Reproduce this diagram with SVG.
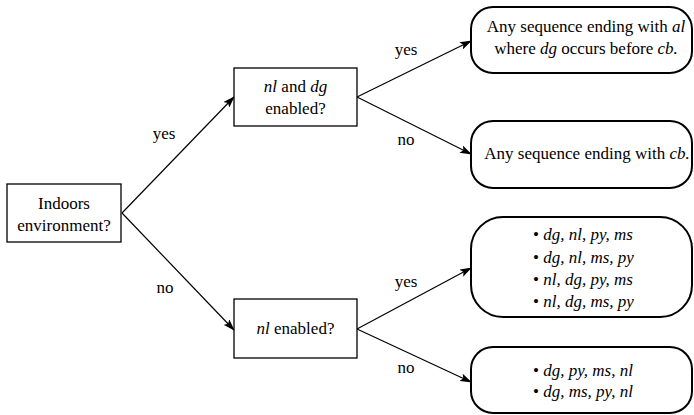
<svg xmlns="http://www.w3.org/2000/svg" width="694" height="415" viewBox="0 0 694 415" font-family="Liberation Serif, DejaVu Serif, serif" font-size="17">
  <style>
    .c { text-anchor: middle; }
    .i { font-style: italic; }
    .q { fill: #fff; stroke: #000; stroke-width: 1.3; }
    .r { fill: #fff; stroke: #000; stroke-width: 2; }
    .e { fill: none; stroke: #000; stroke-width: 1.2; marker-end: url(#ah); }
  </style>
  <defs>
    <marker id="ah" markerWidth="12" markerHeight="8" refX="11" refY="4" orient="auto" markerUnits="userSpaceOnUse">
      <path d="M0,0 L12,4 L0,8 L2.5,4 Z" fill="#000"/>
    </marker>
  </defs>
  <rect width="694" height="415" fill="#fff"/>

  <!-- connectors -->
  <g id="edges">
    <line class="e" x1="122" y1="213" x2="234" y2="97"/>
    <line class="e" x1="122" y1="213" x2="234" y2="330"/>
    <line class="e" x1="357" y1="97" x2="471" y2="41"/>
    <line class="e" x1="357" y1="97" x2="471" y2="154"/>
    <line class="e" x1="357" y1="329" x2="471" y2="268"/>
    <line class="e" x1="357" y1="329" x2="471" y2="382"/>
    <text class="c" x="164" y="139">yes</text>
    <text class="c" x="165" y="293">no</text>
    <text class="c" x="406" y="55">yes</text>
    <text class="c" x="406" y="145">no</text>
    <text class="c" x="406" y="287">yes</text>
    <text class="c" x="406" y="373">no</text>
  </g>

  <g id="indoors">
    <rect class="q" x="7" y="184" width="114" height="58"/>
    <text class="c" x="64" y="209">Indoors</text>
    <text class="c" x="64" y="231">environment?</text>
  </g>

  <g id="nl-dg-enabled">
    <rect class="q" x="234" y="68" width="123" height="58"/>
    <text class="c" x="295.5" y="92"><tspan class="i">nl</tspan> and <tspan class="i">dg</tspan></text>
    <text class="c" x="295.5" y="114">enabled?</text>
  </g>

  <g id="nl-enabled">
    <rect class="q" x="234" y="299" width="123" height="59"/>
    <text class="c" x="295.5" y="334"><tspan class="i">nl</tspan> enabled?</text>
  </g>

  <g id="seq-al">
    <rect class="r" x="471" y="7" width="221" height="66" rx="22" ry="22"/>
    <text class="c" x="586" y="32">Any sequence ending with <tspan class="i">al</tspan></text>
    <text class="c" x="586" y="54">where <tspan class="i">dg</tspan> occurs before <tspan class="i">cb.</tspan></text>
  </g>

  <g id="seq-cb">
    <rect class="r" x="471" y="121" width="221" height="67" rx="22" ry="22"/>
    <text class="c" x="587" y="159">Any sequence ending with <tspan class="i">cb.</tspan></text>
  </g>

  <g id="orders-yes">
    <rect class="r" x="471" y="217" width="221" height="100" rx="32" ry="32"/>
    <text x="533" y="240">• <tspan class="i">dg, nl, py, ms</tspan></text>
    <text x="533" y="262.5">• <tspan class="i">dg, nl, ms, py</tspan></text>
    <text x="533" y="285">• <tspan class="i">nl, dg, py, ms</tspan></text>
    <text x="533" y="307">• <tspan class="i">nl, dg, ms, py</tspan></text>
  </g>

  <g id="orders-no">
    <rect class="r" x="471" y="347" width="221" height="66" rx="22" ry="22"/>
    <text x="533" y="376">• <tspan class="i">dg, py, ms, nl</tspan></text>
    <text x="533" y="397">• <tspan class="i">dg, ms, py, nl</tspan></text>
  </g>
</svg>
